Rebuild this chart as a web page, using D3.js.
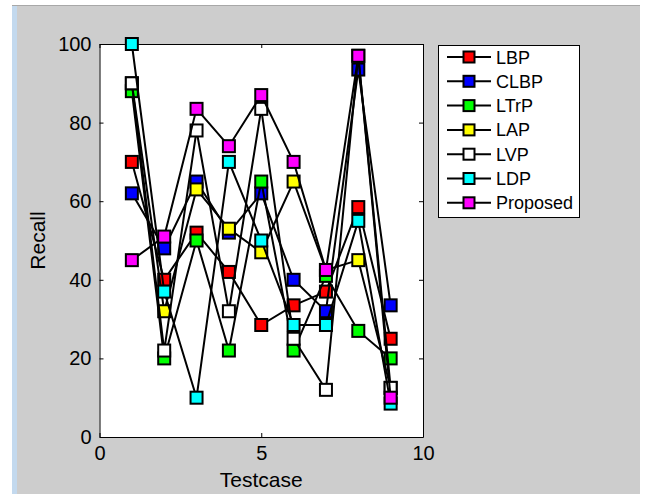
<!DOCTYPE html>
<html>
<head>
<meta charset="utf-8">
<script src="https://cdn.jsdelivr.net/npm/d3@7"></script>
<style>
  body { margin: 0; background: #fff; }
  text { font-family: "Liberation Sans", Arial, sans-serif; fill: #000; }
</style>
</head>
<body>
<script>
const width = 647;
const height = 494;

// values
const testcases = [1, 2, 3, 4, 5, 6, 7, 8, 9];
const LBP      = [70, 40, 52, 42, 28.5, 33.5, 37, 58.5, 25];
const CLBP     = [62, 48, 65, 52, 62, 40, 32, 93.5, 33.5];
const LTrP     = [88, 20, 50, 22, 65, 22, 41, 27, 20];
const LAP      = [90, 32, 63, 53, 47, 65, 42.5, 45, 12.5];
const LVP      = [90, 22, 78, 32, 83.5, 25, 12, 97, 12.5];
const LDP      = [100, 37, 10, 70, 50, 28.5, 28.5, 55, 8.5];
const Proposed = [45, 51, 83.5, 74, 87, 70, 42.5, 97, 10];

const seriesNames = ["LBP", "CLBP", "LTrP", "LAP", "LVP", "LDP", "Proposed"];
const seriesValues = [LBP, CLBP, LTrP, LAP, LVP, LDP, Proposed];
const seriesColors = ["#ff0000", "#0000ff", "#00ff00", "#ffff00", "#ffffff", "#00ffff", "#ff00ff"];

const xTicks = [0, 5, 10];
const yTicks = [0, 20, 40, 60, 80, 100];

const svg = d3.select("body").append("svg")
    .attr("width", width)
    .attr("height", height);

// window background like the matlab figure
svg.append("rect").attr("width", width).attr("height", height).attr("fill", "#fff");
svg.append("rect").attr("x", 12).attr("y", 5).attr("width", 628).attr("height", height - 5).attr("fill", "#cdcdcd");
svg.append("rect").attr("x", 12).attr("y", 5).attr("width", 5).attr("height", height - 5).attr("fill", "#c3d9ee");
svg.append("line").attr("x1", 12).attr("x2", 640).attr("y1", 5.5).attr("y2", 5.5).attr("stroke", "#a8a8a8");

const x = d3.scaleLinear().domain([0, 10]).range([99.5, 423]);
const y = d3.scaleLinear().domain([0, 100]).range([437, 44]);

svg.append("rect")
    .attr("x", x(0)).attr("y", y(100))
    .attr("width", x(10) - x(0)).attr("height", y(0) - y(100))
    .attr("fill", "#fff");

const styleAxis = g => {
  g.selectAll("path, line").attr("stroke", "#000");
  g.selectAll("text").style("font-size", "20px").attr("fill", "#000")
    .style("font-family", "Liberation Sans, Arial, sans-serif");
};

svg.append("g").attr("transform", `translate(0,${y(0)})`)
  .call(d3.axisBottom(x).tickValues(xTicks).tickSizeInner(-4).tickSizeOuter(0).tickPadding(9))
  .call(styleAxis);
svg.append("g").attr("transform", `translate(0,${y(100)})`)
  .call(d3.axisTop(x).tickValues(xTicks).tickSizeInner(-4).tickSizeOuter(0).tickFormat(""))
  .call(styleAxis);
svg.append("g").attr("transform", `translate(${x(0)},0)`)
  .call(d3.axisLeft(y).tickValues(yTicks).tickSizeInner(-4).tickSizeOuter(0).tickPadding(8))
  .call(styleAxis);
svg.append("g").attr("transform", `translate(${x(10)},0)`)
  .call(d3.axisRight(y).tickValues(yTicks).tickSizeInner(-4).tickSizeOuter(0).tickFormat(""))
  .call(styleAxis);

svg.append("text")
    .attr("x", x(5)).attr("y", 487)
    .attr("text-anchor", "middle")
    .style("font-size", "21px")
    .text("Testcase");

svg.append("text")
    .attr("transform", `translate(45,${y(50)}) rotate(-90)`)
    .attr("text-anchor", "middle")
    .style("font-size", "21px")
    .text("Recall");

const line = d3.line().x((d, i) => x(testcases[i])).y(d => y(d));
const ms = 12;

seriesValues.forEach((vals, k) => {
  const g = svg.append("g");
  g.append("path")
    .datum(vals)
    .attr("d", line)
    .attr("fill", "none")
    .attr("stroke", "#000")
    .attr("stroke-width", 2);
  g.selectAll("rect").data(vals).enter().append("rect")
    .attr("x", (d, i) => x(testcases[i]) - ms / 2)
    .attr("y", d => y(d) - ms / 2)
    .attr("width", ms).attr("height", ms)
    .attr("fill", seriesColors[k])
    .attr("stroke", "#000")
    .attr("stroke-width", 2);
});

// legend
const legend = svg.append("g");
legend.append("rect")
    .attr("x", 438.5).attr("y", 45.5).attr("width", 141).attr("height", 172)
    .attr("fill", "#fff").attr("stroke", "#000");

seriesNames.forEach((name, k) => {
  const ly = 57 + k * 24.3;
  legend.append("line")
    .attr("x1", 447).attr("x2", 491).attr("y1", ly).attr("y2", ly)
    .attr("stroke", "#000").attr("stroke-width", 2);
  legend.append("rect")
    .attr("x", 469 - 5.5).attr("y", ly - 5.5).attr("width", 11).attr("height", 11)
    .attr("fill", seriesColors[k]).attr("stroke", "#000").attr("stroke-width", 2);
  legend.append("text")
    .attr("x", 496).attr("y", ly + 6.5)
    .style("font-size", "18px")
    .text(name);
});
</script>
</body>
</html>
